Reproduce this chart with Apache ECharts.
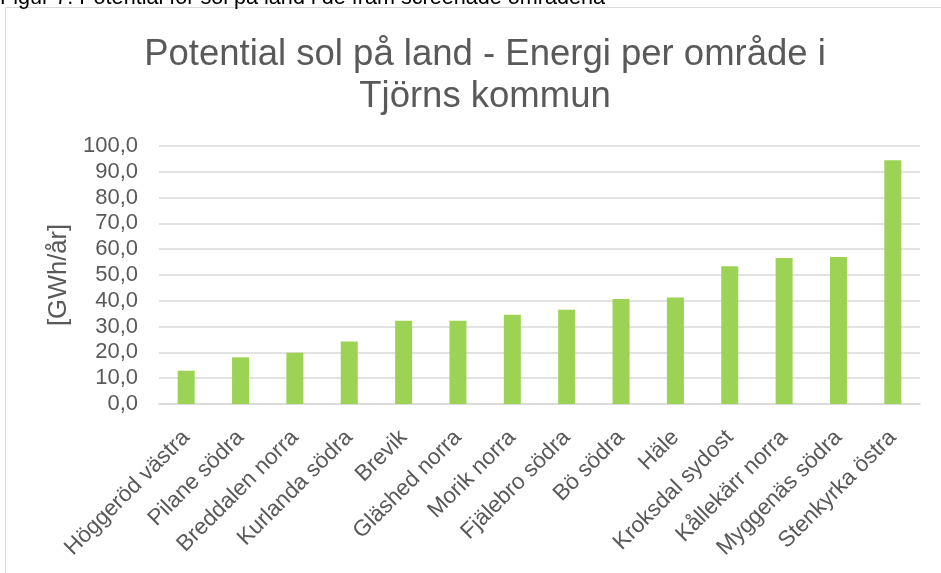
<!DOCTYPE html>
<html>
<head>
<meta charset="utf-8">
<script src="https://cdn.jsdelivr.net/npm/echarts@6/dist/echarts.min.js"></script>
<style>
    html, body { margin: 0; padding: 0; background: #fff; }
    #main { width: 941px; height: 573px; }
</style>
</head>
<body>
<div id="main"></div>
<script>
// områden och energi [GWh/år]
let categories = ['Höggeröd västra', 'Pilane södra', 'Breddalen norra', 'Kurlanda södra', 'Brevik', 'Gläshed norra', 'Morik norra', 'Fjälebro södra', 'Bö södra', 'Häle', 'Kroksdal sydost', 'Kållekärr norra', 'Myggenäs södra', 'Stenkyrka östra']
let values = [12.9, 18.1, 19.9, 24.2, 32.3, 32.3, 34.6, 36.5, 40.7, 41.3, 53.4, 56.6, 57.0, 94.5]
let yTicks = [0, 10, 20, 30, 40, 50, 60, 70, 80, 90, 100]

var chartDom = document.getElementById('main')
var myChart = echarts.init(chartDom)
var grey = '#595959'
var font = 'Liberation Sans, Arial'
var option = {
    animation: false,
    graphic: [
        {
            type: 'rect',
            shape: { x: 5.5, y: 7.5, width: 960, height: 600 },
            style: { fill: 'none', stroke: '#d9d9d9', lineWidth: 1 },
        },
        {
            type: 'text',
            x: 0,
            y: 9,
            style: {
                text: 'Figur 7. Potential för sol på land i de fram screenade områdena',
                fontFamily: font,
                fontSize: 21.6,
                fill: '#000',
                verticalAlign: 'bottom',
            },
        },
    ],
    title: {
        text: 'Potential sol på land - Energi per område i\nTjörns kommun',
        left: 480,
        textAlign: 'center',
        top: 29,
        textStyle: {
            fontFamily: font,
            fontSize: 36.5,
            fontWeight: 'normal',
            color: grey,
            lineHeight: 42,
        },
    },
    grid: { left: 159, right: 21, top: 146, bottom: 169 },
    xAxis: {
        type: 'category',
        data: categories,
        axisTick: { show: false },
        axisLine: { lineStyle: { color: '#d9d9d9', width: 1.5 } },
        axisLabel: {
            rotate: 45,
            interval: 0,
            margin: 30,
            fontFamily: font,
            fontSize: 22.5,
            color: grey,
        },
    },
    yAxis: {
        type: 'value',
        min: yTicks[0],
        max: yTicks[yTicks.length - 1],
        interval: 10,
        name: '[GWh/år]',
        nameLocation: 'middle',
        nameGap: 87,
        nameTextStyle: { fontFamily: font, fontSize: 25.5, color: grey },
        axisLine: { show: false },
        axisTick: { show: false },
        splitLine: { lineStyle: { color: '#d9d9d9', width: 1.5 } },
        axisLabel: {
            margin: 21,
            fontFamily: font,
            fontSize: 22,
            color: grey,
            formatter: function (v) { return v.toFixed(1).replace('.', ',') },
        },
    },
    series: [
        {
            type: 'bar',
            data: values,
            barWidth: 17,
            itemStyle: { color: '#9dd354' },
        },
    ],
}
option && myChart.setOption(option)
</script>
</body>
</html>
